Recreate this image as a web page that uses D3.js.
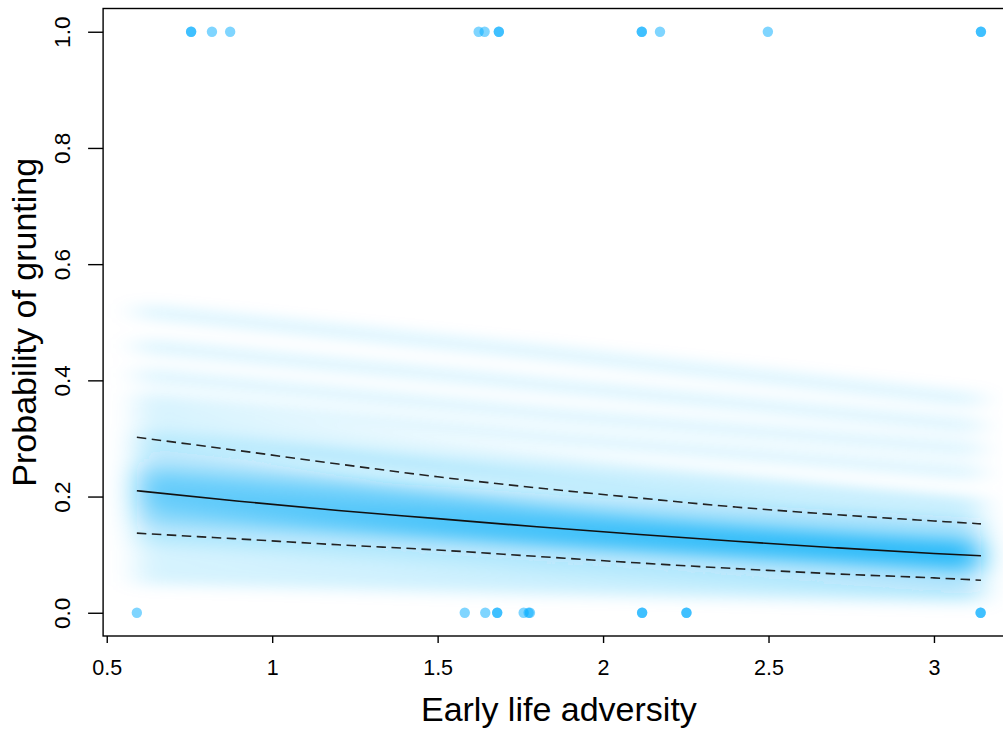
<!DOCTYPE html>
<html>
<head>
<meta charset="utf-8">
<script src="https://cdn.jsdelivr.net/npm/d3@7"></script>
<style>
  html, body { margin: 0; padding: 0; background: #fff; }
  svg { display: block; font-family: "Liberation Sans", Arial, Helvetica, sans-serif; }
</style>
</head>
<body>
<svg id="chart" width="1003" height="729"></svg>
<script>
// Observed outcomes: early life adversity score for individuals that grunted (1) or not (0)
const gruntedX = [0.755, 0.755, 0.818, 0.873, 1.624, 1.642, 1.685, 1.685, 2.117, 2.117, 2.172, 2.498, 3.142, 3.142];
const silentX  = [0.591, 1.582, 1.644, 1.680, 1.680, 1.760, 1.775, 1.779, 2.118, 2.118, 2.252, 2.252, 3.141, 3.141];

// Fitted probability (posterior mean) and 95% interval at evaluation points
const fitX     = [0.591, 0.9, 1.2, 1.5, 1.8, 2.1, 2.4, 2.7, 3.0, 3.142];
const fitMean  = [0.210, 0.192, 0.176, 0.162, 0.148, 0.135, 0.123, 0.112, 0.102, 0.098];
const fitUpper = [0.302, 0.279, 0.256, 0.234, 0.215, 0.198, 0.182, 0.169, 0.158, 0.153];
const fitLower = [0.137, 0.127, 0.117, 0.108, 0.097, 0.086, 0.076, 0.067, 0.060, 0.056];

// Posterior draws of the fitted curve, each as probabilities at x = 0.591, 1.865, 3.142
const drawX = [0.591, 1.865, 3.142];
const draws = [
  [0.21, 0.145, 0.098], [0.20, 0.140, 0.095], [0.22, 0.155, 0.105], [0.19, 0.135, 0.100],
  [0.23, 0.150, 0.095], [0.21, 0.150, 0.110], [0.18, 0.125, 0.085], [0.24, 0.165, 0.110],
  [0.20, 0.130, 0.080], [0.17, 0.130, 0.100], [0.25, 0.170, 0.115], [0.16, 0.115, 0.080],
  [0.22, 0.140, 0.085], [0.26, 0.180, 0.120], [0.15, 0.110, 0.080], [0.19, 0.145, 0.115],
  [0.27, 0.190, 0.130], [0.14, 0.100, 0.070], [0.23, 0.170, 0.125], [0.29, 0.200, 0.135],
  [0.13, 0.090, 0.060], [0.31, 0.220, 0.150], [0.12, 0.080, 0.050], [0.33, 0.230, 0.155],
  [0.10, 0.070, 0.045], [0.35, 0.260, 0.185], [0.08, 0.055, 0.035], [0.28, 0.170, 0.100],
  [0.17, 0.120, 0.075], [0.30, 0.240, 0.180], [0.24, 0.190, 0.150], [0.06, 0.040, 0.025],
  [0.37, 0.300, 0.240], [0.41, 0.340, 0.280], [0.46, 0.390, 0.320], [0.52, 0.445, 0.365],
  [0.21, 0.140, 0.090], [0.20, 0.150, 0.105], [0.23, 0.160, 0.100], [0.18, 0.130, 0.092],
  [0.25, 0.160, 0.100], [0.16, 0.125, 0.095], [0.22, 0.165, 0.120], [0.19, 0.125, 0.075]
];

const yTicks = [0, 0.2, 0.4, 0.6, 0.8, 1.0];
const yTickLabels = ["0.0", "0.2", "0.4", "0.6", "0.8", "1.0"];
const xTicks = [0.5, 1, 1.5, 2, 2.5, 3];
const xTickLabels = ["0.5", "1", "1.5", "2", "2.5", "3"];

const svg = d3.select("#chart");
const plotLeft = 103.1, plotRight = 1014.7, plotTop = 8.5, plotBottom = 636;

const x = d3.scaleLinear().domain([0.489, 3.244]).range([plotLeft, plotRight]);
const y = d3.scaleLinear().domain([-0.04, 1.04]).range([plotBottom, plotTop]);

const defs = svg.append("defs");
defs.append("clipPath").attr("id", "plotClip")
  .append("rect").attr("x", plotLeft).attr("y", plotTop)
  .attr("width", plotRight - plotLeft).attr("height", plotBottom - plotTop);
const blur = defs.append("filter").attr("id", "soft")
  .attr("filterUnits", "userSpaceOnUse")
  .attr("x", 0).attr("y", 0).attr("width", 1003).attr("height", 729);
blur.append("feGaussianBlur").attr("stdDeviation", "15 6.5");

const plot = svg.append("g").attr("clip-path", "url(#plotClip)");

// Posterior draws, blurred into a shaded band
const drawLine = d3.line()
  .x((d, i) => x(drawX[i]))
  .y(d => y(d))
  .curve(d3.curveNatural);

plot.append("g")
  .attr("filter", "url(#soft)")
  .selectAll("path")
  .data(draws)
  .join("path")
  .attr("d", drawLine)
  .attr("fill", "none")
  .attr("stroke", "rgb(20,178,245)")
  .attr("stroke-width", 15)
  .attr("stroke-opacity", 0.13);

// Fitted mean and interval bounds
const fitLine = d3.line()
  .x((d, i) => x(fitX[i]))
  .y(d => y(d))
  .curve(d3.curveMonotoneX);

plot.append("path").attr("d", fitLine(fitUpper))
  .attr("fill", "none").attr("stroke", "#222").attr("stroke-width", 1.6)
  .attr("stroke-dasharray", "9.5,5.5");
plot.append("path").attr("d", fitLine(fitLower))
  .attr("fill", "none").attr("stroke", "#222").attr("stroke-width", 1.6)
  .attr("stroke-dasharray", "9.5,5.5");
plot.append("path").attr("d", fitLine(fitMean))
  .attr("fill", "none").attr("stroke", "#111").attr("stroke-width", 1.6);

// Observed data points
const pointColor = "rgb(0,172,255)";
plot.append("g").selectAll("circle")
  .data(gruntedX.map(v => ({ x: v, y: 1 })).concat(silentX.map(v => ({ x: v, y: 0 }))))
  .join("circle")
  .attr("cx", d => x(d.x))
  .attr("cy", d => y(d.y))
  .attr("r", 5.2)
  .attr("fill", pointColor)
  .attr("fill-opacity", 0.5);

// Frame
svg.append("rect")
  .attr("x", plotLeft).attr("y", plotTop)
  .attr("width", plotRight - plotLeft).attr("height", plotBottom - plotTop)
  .attr("fill", "none").attr("stroke", "#000").attr("stroke-width", 1.4);

// Bottom axis
const xAxis = d3.axisBottom(x)
  .tickValues(xTicks)
  .tickFormat((d, i) => xTickLabels[i])
  .tickSizeInner(7).tickSizeOuter(0).tickPadding(17);
const gx = svg.append("g").attr("transform", `translate(0,${plotBottom})`).call(xAxis);
gx.select(".domain").remove();
gx.selectAll(".tick line").attr("stroke", "#000").attr("stroke-width", 1.4);
gx.selectAll(".tick text").attr("fill", "#000").attr("font-size", 21.5)
  .attr("font-family", "Liberation Sans, Arial, sans-serif");

// Left axis with labels turned parallel to the axis
const yAxis = d3.axisLeft(y)
  .tickValues(yTicks)
  .tickFormat((d, i) => yTickLabels[i])
  .tickSizeInner(15).tickSizeOuter(0);
const gy = svg.append("g").attr("transform", `translate(${plotLeft},0)`).call(yAxis);
gy.select(".domain").remove();
gy.selectAll(".tick line").attr("stroke", "#000").attr("stroke-width", 1.4);
gy.selectAll(".tick text")
  .attr("fill", "#000").attr("font-size", 22.5)
  .attr("font-family", "Liberation Sans, Arial, sans-serif")
  .attr("x", null).attr("dy", null)
  .attr("text-anchor", "middle")
  .attr("transform", `translate(${69.5 - plotLeft},0) rotate(-90)`);

// Axis titles
svg.append("text")
  .attr("x", (plotLeft + plotRight) / 2).attr("y", 721)
  .attr("text-anchor", "middle")
  .attr("font-size", 34)
  .text("Early life adversity");

svg.append("text")
  .attr("transform", `translate(36,${(plotTop + plotBottom) / 2}) rotate(-90)`)
  .attr("text-anchor", "middle")
  .attr("font-size", 34)
  .text("Probability of grunting");
</script>
</body>
</html>
